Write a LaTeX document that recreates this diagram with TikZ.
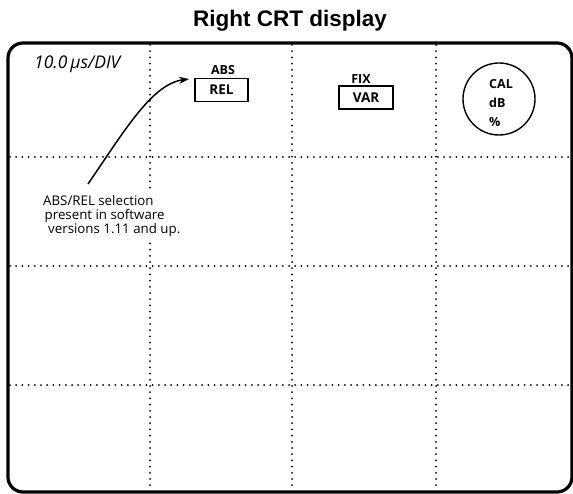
\documentclass[tikz,border=0pt]{standalone}
\usepackage{fontspec}
\setmainfont{Open Sans}
\newfontfamily\titlefont{Liberation Sans}
\newfontfamily\labfont{Open Sans}
\usetikzlibrary{arrows.meta}
\tikzset{
  frame/.style={line width=3.2pt, rounded corners=15pt},
  gridline/.style={line width=2pt, line cap=round, dash pattern=on 0pt off 6.2pt},
  lab/.style={inner sep=0pt, font=\labfont\bfseries\fontsize{12.5}{12.5}\selectfont},
  selbox/.style={draw, line width=1.6pt, minimum width=53pt, minimum height=23pt, inner sep=0pt, font=\labfont\bfseries\fontsize{13.5}{13.5}\selectfont},
  dial/.style={draw, circle, line width=1.4pt, minimum size=72pt, inner sep=0pt},
  pointer/.style={line width=1.5pt, -{Stealth[length=10pt,width=7pt]}},
}
\begin{document}
\begin{tikzpicture}[x=1pt, y=-1pt]
  \useasboundingbox (0,0) rectangle (573,494);
  % title
  \node[anchor=base, inner sep=0pt, font=\titlefont\bfseries\fontsize{22.5}{22.5}\selectfont] (title) at (290,27) {Right CRT display};
  % grid
  \foreach \gx in {150,292,436} \draw[gridline] (\gx,45) -- (\gx,490);
  \foreach \gy in {157,266,385} \draw[gridline] (10,\gy) -- (571,\gy);
  % frame
  \draw[frame] (8,43) rectangle (572,492);
  % labels
  \node[anchor=base west, inner sep=0pt, font=\labfont\itshape\fontsize{17.5}{17.5}\selectfont] (scale) at (34,69) {10.0\,μs/DIV};
  \node[lab, anchor=base] (abs) at (223,75) {ABS};
  \node[selbox] (rel) at (221.5,90) {REL};
  \node[lab, anchor=base] (fix) at (361,84) {FIX};
  \node[selbox, minimum width=54pt] (var) at (366,97.5) {VAR};
  \node[dial] (dial) at (499,99) {};
  \node[lab, anchor=base west] (cal) at (489,89) {CAL};
  \node[lab, anchor=base west] (db) at (489,108) {dB};
  \node[lab, anchor=base west] (pct) at (489,127) {\%};
  % note
  \node[anchor=north west, fill=white, inner sep=4pt, align=left,
        font=\labfont\fontsize{13.3}{14.5}\selectfont] (note) at (39,191)
    {ABS/REL selection\\[-0.5pt]\hspace*{1.5pt}present in software\\[-0.5pt]\hspace*{5pt}versions 1.11 and up.};
  \coordinate (arrs) at (88,184);
  \coordinate (arre) at (189,79);
  \draw[pointer] (arrs) .. controls (125,130) and (152,84) .. (arre);
\end{tikzpicture}
\end{document}
